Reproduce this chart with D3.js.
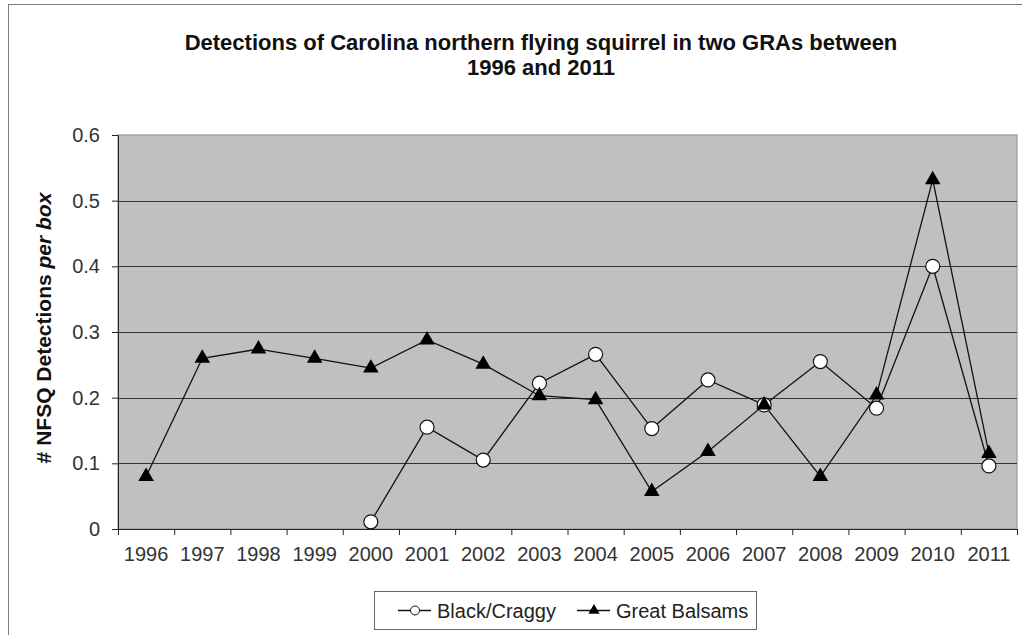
<!DOCTYPE html>
<html>
<head>
<meta charset="utf-8">
<script src="https://cdn.jsdelivr.net/npm/d3@7"></script>
<style>
  html, body { margin: 0; padding: 0; background: #fff; }
  svg { display: block; font-family: "Liberation Sans", Arial, sans-serif; }
</style>
</head>
<body>
<svg id="chart" width="1022" height="635"></svg>
<script>
// Survey years (category axis)
const years = ["1996","1997","1998","1999","2000","2001","2002","2003",
               "2004","2005","2006","2007","2008","2009","2010","2011"];

// Detections per nest box, Black/Craggy GRA (no boxes before 2000)
const blackCraggy = [null, null, null, null, 0.011, 0.155, 0.105, 0.222,
                     0.266, 0.153, 0.227, 0.189, 0.255, 0.184, 0.400, 0.096];

// Detections per nest box, Great Balsams GRA
const greatBalsams = [0.080, 0.260, 0.274, 0.260, 0.245, 0.288, 0.251, 0.203,
                      0.197, 0.057, 0.118, 0.189, 0.080, 0.204, 0.532, 0.115];

// Value axis ticks
const yTicks = [0, 0.1, 0.2, 0.3, 0.4, 0.5, 0.6];

const titleLines = ["Detections of Carolina northern flying squirrel in two GRAs between",
                    "1996 and 2011"];
const seriesNames = ["Black/Craggy", "Great Balsams"];

const svg = d3.select("#chart");

// chart-area frame
svg.append("rect")
  .attr("x", 8.5).attr("y", 4.5)
  .attr("width", 1040).attr("height", 660)
  .attr("fill", "#fff").attr("stroke", "#7a7a7a").attr("stroke-width", 1);

const plot = { left: 118, right: 1017, top: 135, bottom: 529 };

const x = d3.scaleBand().domain(years).range([plot.left, plot.right]);
const xEdge = d3.scaleLinear().domain([0, years.length]).range([plot.left, plot.right]);
const y = d3.scaleLinear().domain([0, 0.6]).range([plot.bottom, plot.top]);

// plot area background
svg.append("rect")
  .attr("x", plot.left).attr("y", plot.top)
  .attr("width", plot.right - plot.left).attr("height", plot.bottom - plot.top)
  .attr("fill", "#c0c0c0").attr("stroke", "#9a9a9a").attr("stroke-width", 1.2);

// horizontal gridlines
svg.append("g")
  .selectAll("line")
  .data(yTicks.filter(d => d > 0 && d < 0.6))
  .join("line")
  .attr("x1", plot.left).attr("x2", plot.right)
  .attr("y1", d => Math.round(y(d)) + 0.5).attr("y2", d => Math.round(y(d)) + 0.5)
  .attr("stroke", "#333").attr("stroke-width", 1.1);

// y axis
const yAxis = svg.append("g")
  .attr("transform", `translate(${plot.left},0)`)
  .call(d3.axisLeft(y).tickValues(yTicks).tickSize(6).tickSizeOuter(0).tickPadding(12)
    .tickFormat(d => d === 0 ? "0" : d3.format(".1f")(d)));
yAxis.select(".domain").attr("stroke", "#222");
yAxis.selectAll(".tick line").attr("stroke", "#222");
yAxis.selectAll("text").attr("font-size", 20).attr("fill", "#333")
  .attr("font-family", "Liberation Sans, Arial, sans-serif");

// x axis line and category-boundary tick marks
const xTickAxis = svg.append("g")
  .attr("transform", `translate(0,${plot.bottom})`)
  .call(d3.axisBottom(xEdge).tickValues(d3.range(years.length + 1)).tickSize(6)
    .tickSizeOuter(0).tickFormat(""));
xTickAxis.select(".domain").attr("stroke", "#222");
xTickAxis.selectAll(".tick line").attr("stroke", "#222");

// x category labels
const xAxis = svg.append("g")
  .attr("transform", `translate(0,${plot.bottom})`)
  .call(d3.axisBottom(x).tickSize(0).tickPadding(18));
xAxis.select(".domain").remove();
xAxis.selectAll("text").attr("font-size", 20).attr("fill", "#333")
  .attr("font-family", "Liberation Sans, Arial, sans-serif");

// series lines
const line = d3.line()
  .defined(d => d.v !== null)
  .x(d => x(d.year) + x.bandwidth() / 2)
  .y(d => y(d.v));

const bcData = years.map((yr, i) => ({ year: yr, v: blackCraggy[i] }));
const gbData = years.map((yr, i) => ({ year: yr, v: greatBalsams[i] }));

svg.append("path").datum(bcData).attr("d", line)
  .attr("fill", "none").attr("stroke", "#111").attr("stroke-width", 1.3);
svg.append("path").datum(gbData).attr("d", line)
  .attr("fill", "none").attr("stroke", "#111").attr("stroke-width", 1.3);

// Black/Craggy markers: open circles
svg.append("g").selectAll("circle")
  .data(bcData.filter(d => d.v !== null))
  .join("circle")
  .attr("cx", d => x(d.year) + x.bandwidth() / 2)
  .attr("cy", d => y(d.v))
  .attr("r", 7)
  .attr("fill", "#fff").attr("stroke", "#111").attr("stroke-width", 1.2);

// Great Balsams markers: filled triangles
const tri = d3.symbol().type(d3.symbolTriangle).size(105);
svg.append("g").selectAll("path")
  .data(gbData)
  .join("path")
  .attr("d", tri)
  .attr("transform", d => `translate(${x(d.year) + x.bandwidth() / 2},${y(d.v)})`)
  .attr("fill", "#000");

// title
svg.append("g").selectAll("text")
  .data(titleLines)
  .join("text")
  .attr("x", 541).attr("y", (d, i) => 50 + i * 25)
  .attr("text-anchor", "middle")
  .attr("font-size", 22).attr("font-weight", "bold").attr("fill", "#111")
  .text(d => d);

// y axis title with italic "per box"
const yt = svg.append("text")
  .attr("transform", "translate(51,328) rotate(-90)")
  .attr("text-anchor", "middle")
  .attr("font-size", 21).attr("font-weight", "bold").attr("fill", "#111");
yt.append("tspan").text("# NFSQ Detections ");
yt.append("tspan").attr("font-style", "italic").text("per box");

// legend
const lg = svg.append("g");
lg.append("rect")
  .attr("x", 374.5).attr("y", 591.5).attr("width", 382).attr("height", 38)
  .attr("fill", "#fff").attr("stroke", "#666").attr("stroke-width", 1);

const legendItems = [
  { name: seriesNames[0], x0: 398, kind: "circle" },
  { name: seriesNames[1], x0: 577, kind: "triangle" }
];
const ly = 610.5;
legendItems.forEach(it => {
  lg.append("line")
    .attr("x1", it.x0).attr("x2", it.x0 + 33).attr("y1", ly).attr("y2", ly)
    .attr("stroke", "#111").attr("stroke-width", 1.3);
  if (it.kind === "circle") {
    lg.append("circle").attr("cx", it.x0 + 17).attr("cy", ly).attr("r", 4.5)
      .attr("fill", "#fff").attr("stroke", "#111").attr("stroke-width", 1);
  } else {
    lg.append("path").attr("d", d3.symbol().type(d3.symbolTriangle).size(55))
      .attr("transform", `translate(${it.x0 + 17},${ly})`).attr("fill", "#000");
  }
  lg.append("text")
    .attr("x", it.x0 + 39).attr("y", ly).attr("dy", "0.35em")
    .attr("font-size", 20).attr("fill", "#222")
    .text(it.name);
});
</script>
</body>
</html>
